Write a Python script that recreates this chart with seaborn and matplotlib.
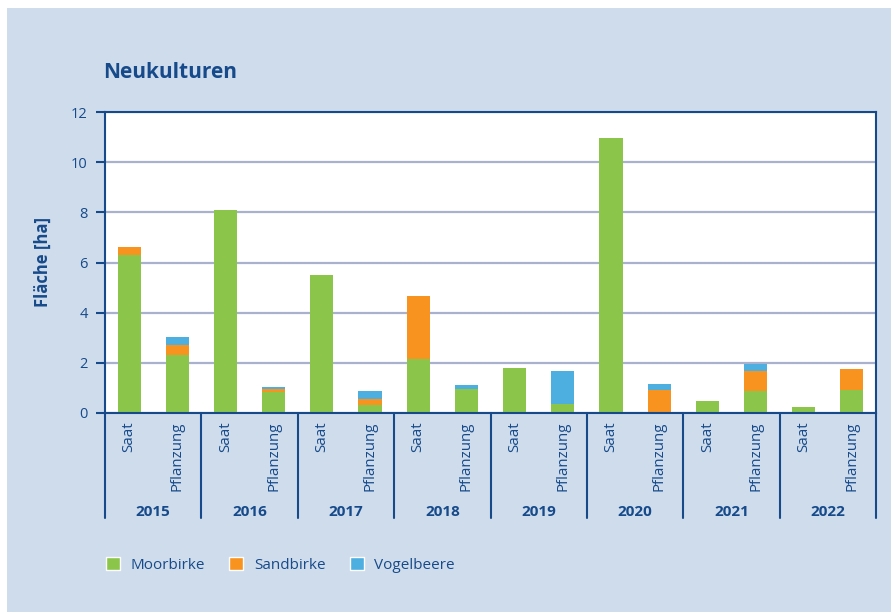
import numpy as np
import pandas as pd
import matplotlib.pyplot as plt
import seaborn as sns
from matplotlib.patches import Rectangle, Patch

# Data (ha)
years = ['2015', '2016', '2017', '2018', '2019', '2020', '2021', '2022']
kinds = ['Saat', 'Pflanzung']
moorbirke = [6.3, 2.3, 8.1, 0.85, 5.5, 0.3, 2.15, 0.95, 1.8, 0.35, 10.95, 0.0, 0.48, 0.88, 0.24, 0.93]
sandbirke = [0.3, 0.4, 0.0, 0.1, 0.0, 0.27, 2.5, 0.0, 0.0, 0.0, 0.0, 0.93, 0.0, 0.8, 0.0, 0.82]
vogelbeere = [0.0, 0.32, 0.0, 0.08, 0.0, 0.32, 0.0, 0.17, 0.0, 1.32, 0.0, 0.23, 0.0, 0.28, 0.0, 0.0]

labels = [f'{y} {k}' for y in years for k in kinds]
df = pd.DataFrame({'label': labels, 'Moorbirke': moorbirke,
                   'Sandbirke': sandbirke, 'Vogelbeere': vogelbeere})
df['moor_sand'] = df['Moorbirke'] + df['Sandbirke']
df['total'] = df['moor_sand'] + df['Vogelbeere']

green = '#8bc64a'
orange = '#f7931e'
blue = '#4daee0'
dark = '#164a8a'
bg = '#cfdcec'
gridc = '#a9b1cc'

sns.set_style('white')
plt.rcParams['font.family'] = ['Open Sans', 'DejaVu Sans']

fig = plt.figure(figsize=(8.91, 6.12), dpi=100, facecolor='white')
fig.patches.append(Rectangle((7 / 891, 0), 1, 1 - 8 / 612, transform=fig.transFigure,
                             facecolor=bg, edgecolor='none', zorder=-10))

ax = fig.add_axes([105 / 891, 1 - 413 / 612, (876 - 105) / 891, (413 - 112) / 612])
ax.set_facecolor('white')

# stacked bars: draw cumulative totals from the top down
for col, c in [('total', blue), ('moor_sand', orange), ('Moorbirke', green)]:
    sns.barplot(data=df, x='label', y=col, order=labels, color=c,
                saturation=1, width=0.48, errorbar=None, ax=ax,
                linewidth=0, edgecolor='none')

ax.set_xlim(-0.5, len(labels) - 0.5)
ax.set_ylim(0, 12)
ax.set_yticks(range(0, 13, 2))
ax.set_axisbelow(True)
ax.yaxis.grid(True, color=gridc, linewidth=1.6)
ax.xaxis.grid(False)

for s in ax.spines.values():
    s.set_color(dark)
    s.set_linewidth(1.5)

ax.tick_params(axis='y', direction='out', length=6.5, width=1.5, color=dark,
               labelcolor=dark, labelsize=10.5, pad=6, left=True)
ax.set_xticks(range(len(labels)))
ax.set_xticklabels([k for y in years for k in kinds], rotation=90,
                   color=dark, fontsize=10.8)
ax.tick_params(axis='x', length=0, pad=6)
ax.set_xlabel('')
ax.set_ylabel('')

# year group separators and year labels
trans = ax.get_xaxis_transform()
for i in range(len(years) + 1):
    ax.plot([i * 2 - 0.5] * 2, [0, -0.35], transform=trans, color=dark,
            linewidth=1.5, clip_on=False)
for i, y in enumerate(years):
    ax.text(i * 2 + 0.5, -0.33, y, transform=trans, ha='center', va='center',
            color=dark, fontsize=11, fontweight='bold')

fig.text(103 / 891, 1 - 73 / 612, 'Neukulturen', ha='left', va='center',
         color=dark, fontsize=15, fontweight='bold')
fig.text(43 / 891, 1 - 262 / 612, 'Fläche [ha]', ha='center', va='center',
         rotation=90, color=dark, fontsize=12, fontweight='bold')

handles = [Patch(facecolor=green, label='Moorbirke'),
           Patch(facecolor=orange, label='Sandbirke'),
           Patch(facecolor=blue, label='Vogelbeere')]
fig.legend(handles=handles, loc='center left', bbox_to_anchor=(106 / 891, 1 - 565 / 612),
           ncol=3, frameon=False, fontsize=11, labelcolor=dark, handlelength=0.9,
           handleheight=0.9, handletextpad=0.7, columnspacing=1.6,
           borderpad=0, borderaxespad=0)

fig.savefig('out.png', dpi=100, facecolor=fig.get_facecolor())
